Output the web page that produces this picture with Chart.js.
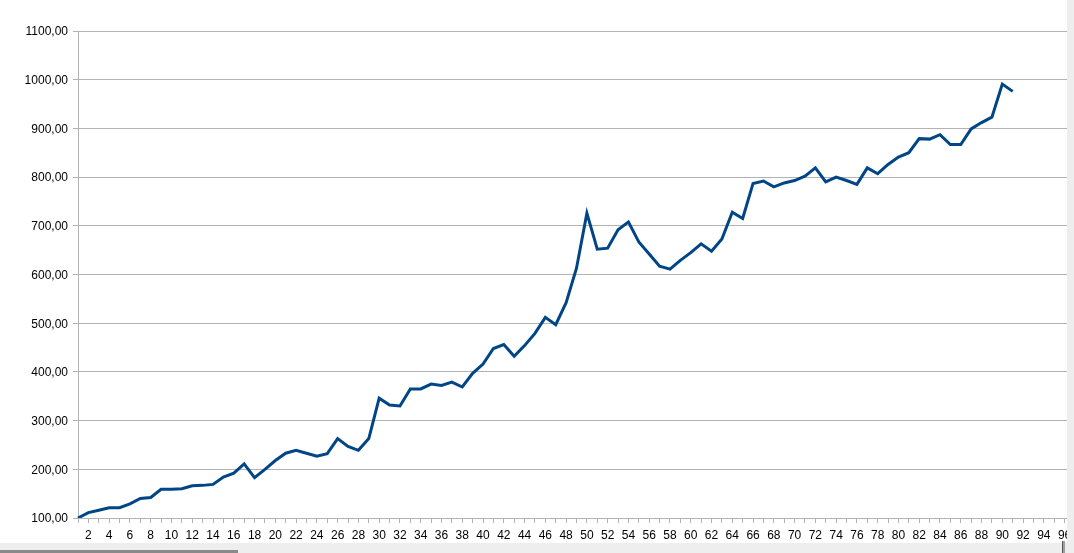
<!DOCTYPE html>
<html>
<head>
<meta charset="utf-8">
<script src="https://cdn.jsdelivr.net/npm/chart.js@4.4.1/dist/chart.umd.min.js"></script>
<style>
  html, body { margin: 0; padding: 0; overflow: hidden; background: #fff; width: 1074px; height: 553px; }
  #wrap { position: absolute; left: 0; top: 0; width: 1080px; height: 553px; }
  #rightStrip { position: absolute; left: 1067px; top: 0; width: 7px; height: 553px; background: #eeeeee; }
  #bottomStrip { position: absolute; left: 0; top: 543px; width: 1074px; height: 10px; background: #eeeeee; }
  #thumb { position: absolute; left: 0; top: 550px; width: 238px; height: 3px; background: #8a8a8a; }
  #mark { position: absolute; left: 1062px; top: 541px; width: 3px; height: 12px; background: #a0a0a0; border-left: 1px solid #555; box-sizing: border-box; }
</style>
</head>
<body>
<div id="wrap"><canvas id="c" width="1080" height="553"></canvas></div>
<div id="rightStrip"></div>
<div id="bottomStrip"></div>
<div id="thumb"></div>
<div id="mark"></div>
<script>
const categories = [1,2,3,4,5,6,7,8,9,10,11,12,13,14,15,16,17,18,19,20,
  21,22,23,24,25,26,27,28,29,30,31,32,33,34,35,36,37,38,39,40,
  41,42,43,44,45,46,47,48,49,50,51,52,53,54,55,56,57,58,59,60,
  61,62,63,64,65,66,67,68,69,70,71,72,73,74,75,76,77,78,79,80,
  81,82,83,84,85,86,87,88,89,90,91,92,93,94,95,96,97];

const seriesValues = [
  100,111,116,121,121,129,140,142,159,159,
  160,166,167,169,184,192,211,183,200,218,
  233,239,233,227,232,263,247,239,263,346,
  332,330,365,365,375,372,379,369,397,416,
  448,456,432,454,479,512,497,542,613,726,
  652,654,692,708,667,642,617,611,629,645,
  663,648,673,728,715,787,792,780,788,793,
  802,819,790,800,793,785,819,807,826,841,
  850,879,878,887,867,867,899,912,923,991,
  976
];

const yMin = 100;
const yMax = 1100;
const yStep = 100;

const FONT = { family: '"Liberation Sans", Arial, sans-serif', size: 12 };

new Chart(document.getElementById('c'), {
  type: 'line',
  data: {
    labels: categories,
    datasets: [{
      data: seriesValues,
      borderColor: '#004586',
      borderWidth: 3,
      pointRadius: 0,
      pointHoverRadius: 0,
      tension: 0,
      fill: false
    }]
  },
  options: {
    responsive: false,
    animation: false,
    events: [],
    layout: { padding: { top: 31, right: 0, left: 0, bottom: 0 } },
    plugins: { legend: { display: false }, tooltip: { enabled: false } },
    scales: {
      x: {
        type: 'category',
        offset: false,
        afterFit: (s) => { s.height = 35; },
        border: { display: true, color: '#b3b3b3', width: 1 },
        grid: { display: true, drawOnChartArea: false, drawTicks: true, tickLength: 5, color: '#b3b3b3' },
        ticks: {
          autoSkip: false,
          maxRotation: 0,
          minRotation: 0,
          padding: 5,
          color: '#000',
          font: FONT,
          callback: function(v, i) {
            const lab = categories[i];
            return (lab % 2 === 0) ? String(lab) : '';
          }
        }
      },
      y: {
        min: yMin,
        max: yMax,
        afterFit: (s) => { s.width = 78; },
        border: { display: true, color: '#b3b3b3', width: 1 },
        grid: { display: true, drawTicks: true, tickLength: 5, color: '#b3b3b3' },
        ticks: {
          stepSize: yStep,
          padding: 5,
          labelOffset: 1,
          color: '#000',
          font: FONT,
          callback: (v) => Number(v).toFixed(2).replace('.', ',')
        }
      }
    }
  }
});
</script>
</body>
</html>
